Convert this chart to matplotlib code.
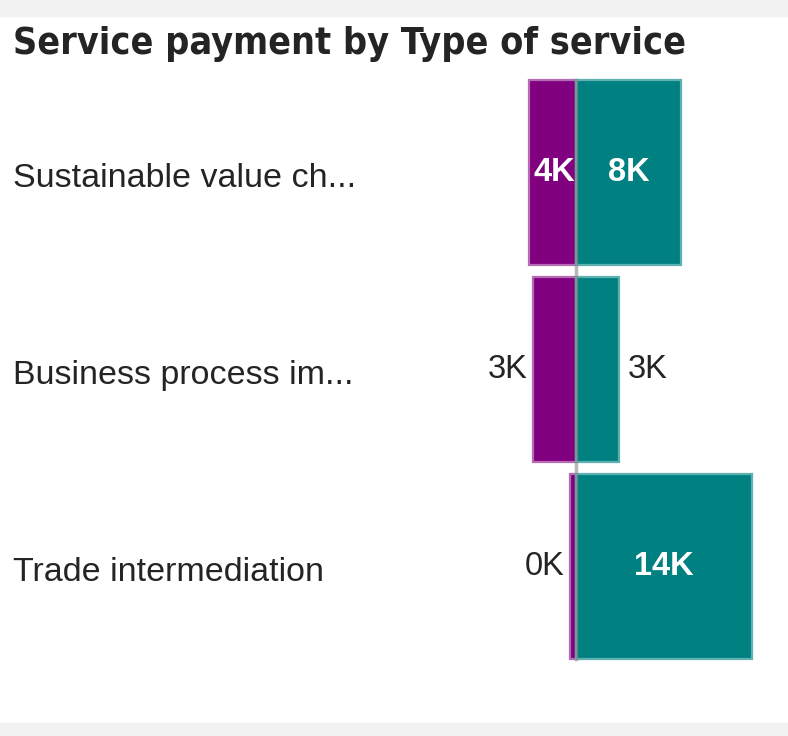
import matplotlib
matplotlib.use("Agg")
import matplotlib.pyplot as plt
import matplotlib.transforms as mtransforms

# ---- data ----
categories = ["Sustainable value ch...", "Business process im...", "Trade intermediation"]
left_values = [3.75, 3.45, 0.45]     # purple series (K)
right_values = [8.35, 3.45, 14.0]    # teal series (K)
title = "Service payment by Type of service"

W, H, DPI = 788, 736, 100
fig = plt.figure(figsize=(W / DPI, H / DPI), dpi=DPI)
fig.patch.set_facecolor("white")

# gray bands top and bottom
fig.patches.append(plt.Rectangle((0, 1 - 16 / H), 1, 16 / H, transform=fig.transFigure,
                                 color="#f2f2f2", zorder=0))
fig.patches.append(plt.Rectangle((0, 0), 1, 13 / H, transform=fig.transFigure,
                                 color="#f2f2f2", zorder=0))

ax = fig.add_axes([0, 0, 1, 1])
ax.set_facecolor("none")
center_px = 576
px_per_k = 12.57
ax.set_xlim(-center_px / px_per_k, (W - center_px) / px_per_k)
row_px = [172.5, 369.5, 567.0]
spacing = 197.0
ax.set_ylim((H - row_px[0]) / spacing, -row_px[0] / spacing)
ax.axis("off")

ypos = list(range(len(categories)))
bar_h = 0.94
purple, purple_edge = "#800080", "#b56cb5"
teal, teal_edge = "#008080", "#5fb0b0"

ax.barh(ypos, [-v for v in left_values], height=bar_h, color=purple,
        edgecolor=purple_edge, linewidth=1.6, zorder=2)
ax.barh(ypos, right_values, height=bar_h, color=teal,
        edgecolor=teal_edge, linewidth=1.6, zorder=2)

# center line
ax.plot([0, 0], [-0.47, 2.47], color="#8a8a8a", alpha=0.6, lw=2.5, zorder=3)

lab_font = dict(family=["Liberation Sans", "DejaVu Sans"], fontsize=23.5)
k_off = 8 / px_per_k
for i, (lv, rv) in enumerate(zip(left_values, right_values)):
    ltxt = f"{round(lv):.0f}K"
    rtxt = f"{round(rv):.0f}K"
    # left label
    if lv * px_per_k > 45:
        ax.text(-0.05, i, ltxt, ha="right", va="center", color="white",
                fontweight="bold", zorder=4, **lab_font)
    else:
        ax.text(-lv - k_off + 0.2, i, ltxt, ha="right", va="center", color="#252423",
                zorder=4, **lab_font)
    # right label
    if rv * px_per_k > 60:
        ax.text(rv / 2, i, rtxt, ha="center", va="center", color="white",
                fontweight="bold", zorder=4, **lab_font)
    else:
        ax.text(rv + k_off, i, rtxt, ha="left", va="center", color="#252423",
                zorder=4, **lab_font)

# category labels
trans = mtransforms.blended_transform_factory(fig.transFigure, ax.transData)
for i, c in enumerate(categories):
    ax.text(13 / W, i + 0.03, c, transform=trans, ha="left", va="center",
            color="#252423", family=["Liberation Sans", "DejaVu Sans"], fontsize=24.5)

fig.text(13 / W, 1 - 44 / H, title, ha="left", va="center", color="#252423",
         family=["DejaVu Sans"], fontweight="bold", fontstretch="condensed",
         fontsize=27)

fig.savefig("out.png", dpi=DPI)
